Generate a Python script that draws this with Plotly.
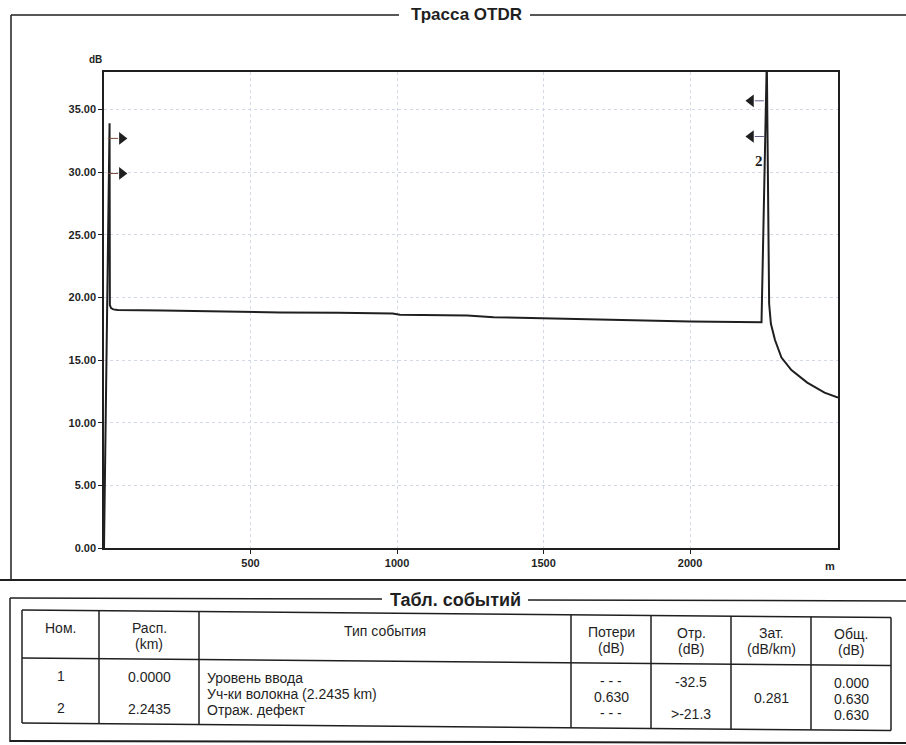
import plotly.graph_objects as go

# OTDR trace: distance along the fibre (m) and backscatter level (dB)
dist_m = [0, 17, 19, 20, 24, 32, 46, 200, 420, 600, 800, 985, 1010, 1240, 1330,
          1500, 1770, 2000, 2244, 2262, 2270, 2276, 2290, 2312, 2346, 2400, 2459, 2505]
level_db = [0, 33.9, 33.9, 19.4, 19.15, 19.05, 19.0, 18.97, 18.85, 18.8, 18.78, 18.72, 18.62, 18.57, 18.42,
            18.33, 18.2, 18.08, 18.02, 39.0, 19.5, 17.9, 16.6, 15.2, 14.2, 13.2, 12.4, 12.0]

# Cursor markers at the launch and at the reflective event
cursor_left_m = 61
cursor_left_db = [32.7, 29.9]
cursor_right_m = 2208
cursor_right_db = [35.7, 32.85]
event_label = "2"
event_label_pos = (2234, 30.9)

x_ticks = [500, 1000, 1500, 2000]
y_ticks = [0, 5, 10, 15, 20, 25, 30, 35]

# Event table
header_line1 = ["Ном.", "Расп.", "Тип события", "Потери", "Отр.", "Зат.", "Общ."]
header_line2 = ["", "(km)", "", "(dB)", "(dB)", "(dB/km)", "(dB)"]
event_no = ["1", "2"]
event_dist_km = ["0.0000", "2.2435"]
event_type = ["Уровень ввода", "Уч-ки волокна (2.2435 km)", "Отраж. дефект"]
event_loss_db = ["- - -", "0.630", "- - -"]
event_refl_db = ["-32.5", ">-21.3"]
event_atten = ["0.281"]
event_total_db = ["0.000", "0.630", "0.630"]

# plot-area geometry in pixels
W, H = 906, 745
L, R, T, B = 104, 838, 72, 548


def px(x):
    return (x - L) / (R - L)


def py(y):
    return (B - y) / (B - T)


INK = "#1f1f1f"
FONT = "Liberation Sans, Arial, sans-serif"

fig = go.Figure()

fig.add_trace(go.Scatter(x=dist_m, y=level_db, mode="lines",
                         line=dict(color=INK, width=2), hoverinfo="skip"))

for lvl in cursor_left_db:
    fig.add_trace(go.Scatter(x=[13, 48], y=[lvl, lvl], mode="lines",
                             line=dict(color="#7a4a3a", width=1), hoverinfo="skip"))
for lvl in cursor_right_db:
    fig.add_trace(go.Scatter(x=[2221, 2252], y=[lvl, lvl], mode="lines",
                             line=dict(color="#6a5a8a", width=1), hoverinfo="skip"))

fig.add_trace(go.Scatter(x=[cursor_left_m] * len(cursor_left_db), y=cursor_left_db,
                         mode="markers", marker=dict(symbol="triangle-right", size=11, color=INK),
                         hoverinfo="skip"))
fig.add_trace(go.Scatter(x=[cursor_right_m] * len(cursor_right_db), y=cursor_right_db,
                         mode="markers", marker=dict(symbol="triangle-left", size=11, color=INK),
                         hoverinfo="skip"))

axis_common = dict(
    showline=True, mirror=True, linecolor=INK, linewidth=1.5,
    ticks="outside", ticklen=4, tickcolor=INK, tickwidth=1,
    showgrid=True, gridcolor="#d3d8e6", griddash="dot", gridwidth=1,
    zeroline=False,
    tickfont=dict(family=FONT, size=11, color=INK, weight="bold"),
)

fig.update_xaxes(range=[0, 2505], tickvals=x_ticks, ticktext=[str(v) for v in x_ticks],
                 **axis_common)
fig.update_yaxes(range=[0, 38], tickvals=y_ticks, ticktext=[f"{v:.2f}" for v in y_ticks],
                 **axis_common)


def paper_note(x, y, text, font, xanchor="center"):
    return dict(x=px(x), y=py(y), xref="paper", yref="paper", text=text,
                showarrow=False, font=font, xanchor=xanchor, yanchor="middle")


annotations = [
    dict(x=event_label_pos[0], y=event_label_pos[1], xref="x", yref="y", text=event_label,
         showarrow=False, xanchor="center", yanchor="middle",
         font=dict(family="Liberation Serif, Times New Roman, serif",
                   size=15, color=INK, weight="bold")),
    paper_note(95, 59, "dB", dict(family=FONT, size=10, color=INK, weight="bold")),
    paper_note(830, 566, "m", dict(family=FONT, size=11, color=INK, weight="bold")),
    paper_note(466, 15, "Трасса OTDR", dict(family=FONT, size=17, color=INK, weight="bold")),
    paper_note(455, 600, "Табл. событий", dict(family=FONT, size=18, color=INK, weight="bold")),
]

shapes = []


def seg(x0, y0, x1, y1, w=1.5, color=INK):
    shapes.append(dict(type="line", xref="paper", yref="paper",
                       x0=px(x0), x1=px(x1), y0=py(y0), y1=py(y1),
                       line=dict(color=color, width=w)))


# trace panel frame
seg(11, 15, 399, 15)
seg(530, 15, 906, 15)
seg(11, 15, 11, 580)
seg(0, 580, 906, 580, w=2)

# event table panel frame
seg(10, 598, 382, 599)
seg(528, 600, 906, 601)
seg(10, 598, 10, 742)
seg(10, 741, 906, 743, w=2)

# table grid; the sheet sits slightly rotated, so rows drop toward the right
col_edges = [22, 99, 199, 571, 651, 731, 811, 891]
TILT = 7.5 / (col_edges[-1] - col_edges[0])


def tilt(x):
    return (x - col_edges[0]) * TILT


tbl_top, tbl_head, tbl_bot = 610, 658, 723
for yb in (tbl_top, tbl_head, tbl_bot):
    seg(col_edges[0], yb, col_edges[-1], yb + tilt(col_edges[-1]))
for xe in col_edges:
    seg(xe, tbl_top + tilt(xe), xe, tbl_bot + tilt(xe))

cell_font = dict(family=FONT, size=14, color=INK)
centers = [(col_edges[i] + col_edges[i + 1]) / 2 for i in range(len(col_edges) - 1)]
for i in range(len(header_line1)):
    cx = centers[i]
    if header_line2[i]:
        annotations.append(paper_note(cx, 627 + tilt(cx), header_line1[i], cell_font))
        annotations.append(paper_note(cx, 643 + tilt(cx), header_line2[i], cell_font))
    else:
        annotations.append(paper_note(cx, 628 + tilt(cx), header_line1[i], cell_font))

row_y = [676, 692, 708]


def cell(col, row, text, left=False):
    if left:
        x = col_edges[col] + 6
        annotations.append(paper_note(x, row_y[row] + tilt(x + 80), text, cell_font, xanchor="left"))
    else:
        x = centers[col]
        annotations.append(paper_note(x, row_y[row] + tilt(x), text, cell_font))


cell(0, 0, event_no[0])
cell(0, 2, event_no[1])
cell(1, 0, event_dist_km[0])
cell(1, 2, event_dist_km[1])
for k in range(3):
    cell(2, k, event_type[k], left=True)
    cell(3, k, event_loss_db[k])
    cell(6, k, event_total_db[k])
cell(4, 0, event_refl_db[0])
cell(4, 2, event_refl_db[1])
cell(5, 1, event_atten[0])

fig.update_layout(
    width=W, height=H,
    margin=dict(l=L, r=W - R, t=T, b=H - B),
    paper_bgcolor="white", plot_bgcolor="white",
    showlegend=False,
    annotations=annotations,
    shapes=shapes,
)

fig.write_html("out.html")
